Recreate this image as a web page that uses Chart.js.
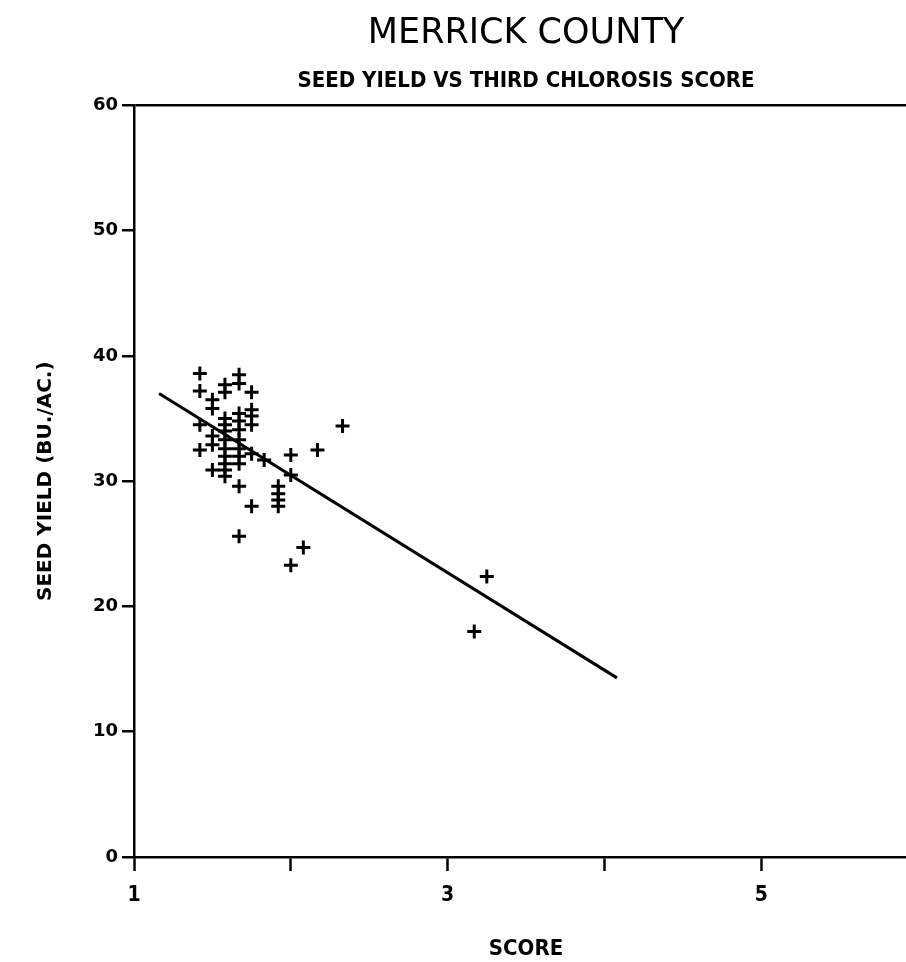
<!DOCTYPE html>
<html>
<head>
<meta charset="utf-8">
<title>Merrick County</title>
<script src="https://cdn.jsdelivr.net/npm/chart.js@4.4.1/dist/chart.umd.min.js"></script>
<style>
  html, body { margin: 0; padding: 0; background: #fff; overflow: hidden; }
  canvas { display: block; }
</style>
</head>
<body>
<canvas id="chart" width="930" height="962"></canvas>
<script>
// Third chlorosis score (plot means) and seed yield, bu./ac.
const scores = [
  1.42, 1.42, 1.42, 1.42,
  1.50, 1.50, 1.50, 1.50, 1.50,
  1.58, 1.58, 1.58, 1.58, 1.58, 1.58, 1.58, 1.58, 1.58, 1.58, 1.58,
  1.67, 1.67, 1.67, 1.67, 1.67, 1.67, 1.67, 1.67, 1.67, 1.67, 1.67,
  1.75, 1.75, 1.75, 1.75, 1.75, 1.75,
  1.83,
  1.92, 1.92, 1.92, 1.92,
  2.00, 2.00, 2.00,
  2.08,
  2.17,
  2.33,
  3.17, 3.25
];
const yields = [
  38.6, 37.2, 34.5, 32.5,
  36.5, 35.8, 33.6, 32.9, 30.9,
  37.7, 37.1, 35.0, 34.5, 34.0, 33.3, 32.6, 32.0, 31.4, 30.9, 30.4,
  38.5, 37.8, 35.4, 34.8, 34.1, 33.3, 32.6, 32.0, 31.4, 29.6, 25.6,
  37.1, 35.7, 35.2, 34.5, 32.2, 28.0,
  31.7,
  29.6, 29.0, 28.5, 28.0,
  32.1, 30.5, 23.3,
  24.7,
  32.5,
  34.4,
  18.0, 22.4
];

// Fitted regression line end points
const fitScores = [1.16, 4.08];
const fitYields = [37.0, 14.3];

// Axis ranges and labelled ticks
const scoreRange = [1, 6];
const yieldRange = [0, 60];
const labelledScores = [1, 3, 5];

const ink = '#000';
const condensed = "'DejaVu Sans Condensed', 'Liberation Sans Narrow', 'DejaVu Sans', sans-serif";
const wide = "'DejaVu Sans', 'Liberation Sans', sans-serif";

const pointData = scores.map((s, i) => ({ x: s, y: yields[i] }));
const fitData = fitScores.map((s, i) => ({ x: s, y: fitYields[i] }));

new Chart(document.getElementById('chart'), {
  type: 'scatter',
  data: {
    datasets: [
      {
        label: 'Plots',
        data: pointData,
        pointStyle: 'cross',
        pointRadius: 7,
        pointBorderWidth: 3,
        borderColor: ink,
        backgroundColor: ink,
        showLine: false
      },
      {
        label: 'Regression',
        data: fitData,
        showLine: true,
        borderColor: ink,
        borderWidth: 3,
        pointRadius: 0
      }
    ]
  },
  options: {
    responsive: false,
    animation: false,
    events: [],
    layout: { padding: { left: 0, right: 12, top: 0, bottom: 0 } },
    plugins: {
      legend: { display: false },
      tooltip: { enabled: false },
      title: {
        display: true,
        text: 'MERRICK COUNTY',
        color: ink,
        fullSize: false,
        font: { family: wide, size: 35, weight: 'normal' },
        padding: { top: 13, bottom: 4 }
      },
      subtitle: {
        display: true,
        text: 'SEED YIELD VS THIRD CHLOROSIS SCORE',
        color: ink,
        fullSize: false,
        font: { family: condensed, size: 22, weight: 'bold' },
        padding: { top: 9, bottom: 11 }
      }
    },
    scales: {
      x: {
        type: 'linear',
        min: scoreRange[0],
        max: scoreRange[1],
        afterFit: (s) => { s.height = 105; },
        border: { display: true, color: ink, width: 2.5 },
        grid: {
          drawOnChartArea: false,
          drawTicks: true,
          tickLength: 14,
          tickWidth: 2.5,
          tickColor: ink
        },
        ticks: {
          stepSize: 1,
          color: ink,
          padding: 12,
          font: { family: condensed, size: 21, weight: 'bold' },
          callback: (v) => labelledScores.includes(v) ? String(v) : ''
        },
        title: {
          display: true,
          text: 'SCORE',
          color: ink,
          font: { family: condensed, size: 22, weight: 'bold' },
          padding: { top: 20, bottom: 0 }
        }
      },
      y: {
        type: 'linear',
        min: yieldRange[0],
        max: yieldRange[1],
        afterFit: (s) => { s.width = 134; },
        border: { display: true, color: ink, width: 2.5 },
        grid: {
          drawOnChartArea: true,
          color: (c) => (c.tick && c.tick.value === yieldRange[1]) ? ink : 'rgba(0,0,0,0)',
          lineWidth: 2.5,
          drawTicks: true,
          tickLength: 12,
          tickWidth: 2.5,
          tickColor: ink
        },
        ticks: {
          stepSize: 10,
          color: ink,
          padding: 4,
          font: { family: wide, size: 18, weight: 'bold' }
        },
        title: {
          display: true,
          text: 'SEED YIELD (BU./AC.)',
          color: ink,
          font: { family: wide, size: 20, weight: 'bold' },
          padding: { top: 34, bottom: 0 }
        }
      }
    }
  }
});
</script>
</body>
</html>
